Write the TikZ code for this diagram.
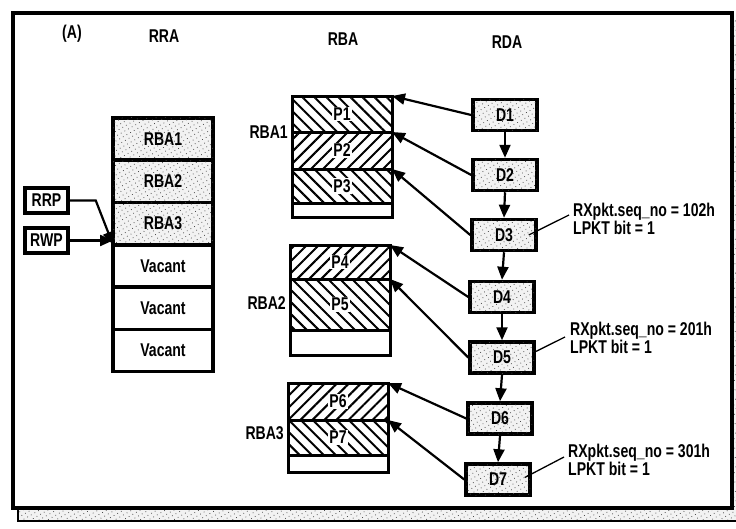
\documentclass[tikz,border=0pt]{standalone}
\usepackage{fontspec}
\setmainfont{Liberation Sans}[FakeStretch=0.76]
\usetikzlibrary{arrows.meta,patterns,patterns.meta,calc}
\begin{document}
\begin{tikzpicture}[x=1pt,y=-1pt,
  every node/.style={font=\bfseries\fontsize{18.5}{18}\selectfont},
  stip/.style={fill=black!5, postaction={pattern={Dots[distance=4.2pt,radius=0.55pt,angle=30]}, pattern color=black!70}},
  rra/.style={draw, line width=3.5pt, minimum width=100pt, minimum height=42.3pt, inner sep=0pt, outer sep=0pt},
  ptr/.style={draw, line width=3.5pt, minimum width=43pt, minimum height=25pt, inner sep=0pt},
  pk/.style={draw, line width=3pt, minimum width=100pt, inner sep=0pt, outer sep=0pt},
  hA/.style={pattern={Lines[angle=-45,distance=8.5pt,line width=2pt]}},
  hB/.style={pattern={Lines[angle=45,distance=8.5pt,line width=2pt]}},
  plbl/.style={fill=white, inner sep=1pt},
  dbox/.style={draw, line width=3.5pt, stip, minimum width=64pt, minimum height=31pt, inner sep=0pt},
  arr/.style={line width=2.2pt, -{Triangle[length=13pt,width=11pt]}},
  lead/.style={line width=1.3pt},
  note/.style={anchor=west, align=left, inner sep=0pt}
]
\useasboundingbox (0,0) rectangle (736,528);
% shadow and frame
\path[stip] (18,20) rectangle (745,521);
\draw[line width=1.8pt] (18,508) -- (18,521) -- (745,521);
\draw[line width=3.5pt, fill=white] (13,13) rectangle (732,508);

% headings
\node (hA) at (72,34) {(A)};
\node (hRRA) at (164,36) {RRA};
\node (hRBA) at (343,39) {RBA};
\node (hRDA) at (507,42) {RDA};

% RRA column
\node[rra, stip] (R1) at (163,139) {RBA1};
\node[rra, stip] (R2) at (163,181.3) {RBA2};
\node[rra, stip] (R3) at (163,223.6) {RBA3};
\node[rra] (R4) at (163,265.9) {Vacant};
\node[rra] (R5) at (163,308.2) {Vacant};
\node[rra] (R6) at (163,350.5) {Vacant};

\node[ptr] (RRP) at (46.5,200.5) {RRP};
\node[ptr] (RWP) at (46.5,240.5) {RWP};
\draw[arr] (RRP.east) -- ++(26,0) -- (R4.north west);
\draw[arr] (RWP.east) -- (RWP.east -| R4.west);

% RBA column
\node[pk, hA, minimum height=36pt] (P1) at (342,114) {};
\node[pk, hB, minimum height=37pt] (P2) at (342,150.5) {};
\node[pk, hA, minimum height=34pt] (P3) at (342,186) {};
\node[pk, minimum height=14pt] (E1) at (342,210) {};
\node[pk, hB, minimum height=34pt] (P4) at (340,262) {};
\node[pk, hA, minimum height=51pt] (P5) at (340,304.5) {};
\node[pk, minimum height=25pt] (E2) at (340,342.5) {};
\node[pk, hB, minimum height=37pt] (P6) at (338,401.5) {};
\node[pk, hA, minimum height=35pt] (P7) at (338,437.5) {};
\node[pk, minimum height=17pt] (E3) at (338,463.5) {};
\foreach \i in {1,...,7} { \node[plbl] (L\i) at (P\i) {P\i}; }

\node[anchor=east, inner sep=0pt] (N1) at ($(P1.south west)+(-4,0)$) {RBA1};
\node[anchor=east, inner sep=0pt] (N2) at ($(P5.west)+(-4,-1)$) {RBA2};
\node[anchor=east, inner sep=0pt] (N3) at ($(P7.west)+(-4,-4)$) {RBA3};

% RDA column
\node[dbox] (D1) at (505,115) {D1};
\node[dbox] (D2) at (505,175) {D2};
\node[dbox] (D3) at (504,235) {D3};
\node[dbox] (D4) at (502,297) {D4};
\node[dbox] (D5) at (502,357.5) {D5};
\node[dbox] (D6) at (500,418.5) {D6};
\node[dbox] (D7) at (498,479.5) {D7};
\foreach \a/\b in {1/2,2/3,3/4,4/5,5/6,6/7} { \draw[arr] (D\a.south) -- (D\b.north); }
\foreach \i in {1,...,7} { \draw[arr] (D\i.west) -- (P\i.north east); }

% notes
\node[note] (T3) at (573,219) {RXpkt.seq\_no = 102h\\LPKT bit = 1};
\node[note] (T5) at (570,338) {RXpkt.seq\_no = 201h\\LPKT bit = 1};
\node[note] (T7) at (568,460) {RXpkt.seq\_no = 301h\\LPKT bit = 1};
\draw[lead] ($(D3.east)+(-9,0)$) -- ($(T3.west)+(-4,-4)$);
\draw[lead] ($(D5.east)+(-2,-5)$) -- ($(T5.west)+(-5,-1)$);
\draw[lead] ($(D7.east)+(-7,-2)$) -- ($(T7.west)+(-4,-3)$);
\end{tikzpicture}
\end{document}
